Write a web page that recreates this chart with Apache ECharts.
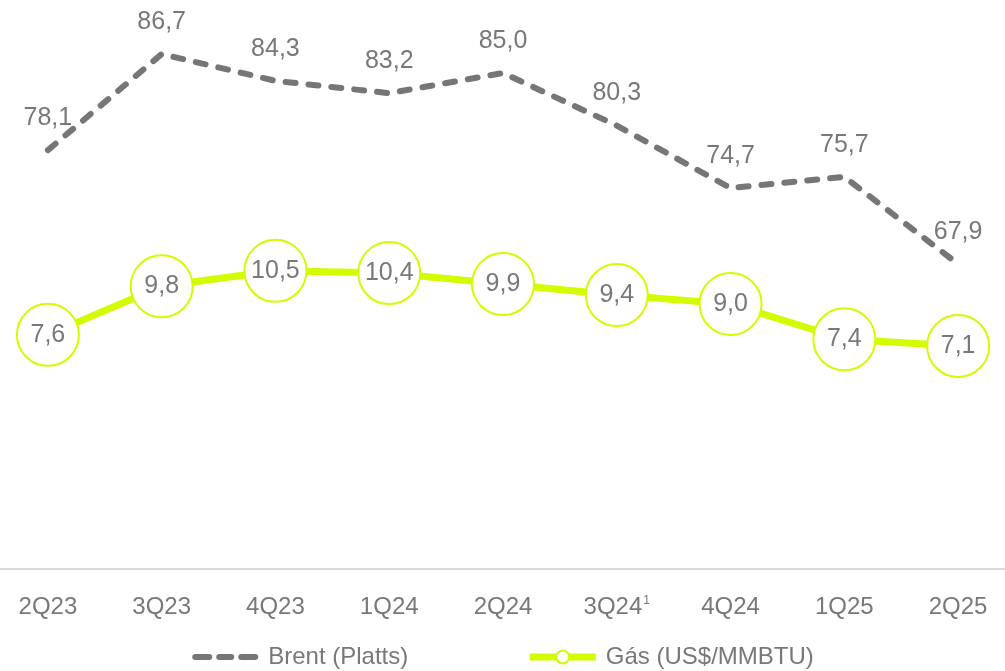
<!DOCTYPE html>
<html><head><meta charset="utf-8">
<script src="https://cdn.jsdelivr.net/npm/echarts@6/dist/echarts.min.js"></script>
<style>html,body{margin:0;padding:0;background:#fff;overflow:hidden;width:1005px;height:671px}#c{position:absolute;left:-9px;top:0;width:1024px;height:671px}</style>
</head><body><div id="c"></div>
<script>
var categories = ['2Q23','3Q23','4Q23','1Q24','2Q24','3Q24','4Q24','1Q25','2Q25'];
var brent = [78.1, 86.7, 84.3, 83.2, 85.0, 80.3, 74.7, 75.7, 67.9];
var gas = [7.6, 9.8, 10.5, 10.4, 9.9, 9.4, 9.0, 7.4, 7.1];
var superscriptCats = ['3Q24'];
var seriesNames = ['Brent (Platts)', 'Gás (US$/MMBTU)'];

var FONT = 'Liberation Sans';
var GRAY = '#787878';
var BRENT_GRAY = '#767676';
var GREEN = '#d4fb00';
function fmt(v){ return v.toFixed(1).replace('.', ','); }

var chart = echarts.init(document.getElementById('c'), null, {renderer:'canvas'});
chart.setOption({
  animation: false,
  textStyle: {fontFamily: FONT},
  grid: {left: 0, right: 0, top: 0, bottom: 102, containLabel: false},
  legend: {
    top: 640, left: 'center',
    itemWidth: 66, itemHeight: 16, itemGap: 118,
    textStyle: {fontFamily: FONT, fontSize: 24, color: GRAY, padding: [0, 0, 0, 5]},
    data: [
      {name: seriesNames[0],
       icon: 'path://M3,0h14a3,3 0 0 1 0,6h-14a3,3 0 0 1 0,-6z M27,0h12a3,3 0 0 1 0,6h-12a3,3 0 0 1 0,-6z M49,0h14a3,3 0 0 1 0,6h-14a3,3 0 0 1 0,-6z',
       itemStyle: {color: BRENT_GRAY, borderWidth: 0}},
      {name: seriesNames[1],
       lineStyle: {color: GREEN, width: 7},
       itemStyle: {color: '#ffffff', borderColor: GREEN, borderWidth: 2}}
    ]
  },
  xAxis: {
    type: 'category', data: categories, boundaryGap: true,
    axisLine: {onZero: false, lineStyle: {color: '#d9d9d9', width: 2}},
    axisTick: {show: false},
    axisLabel: {
      interval: 0, margin: 26, fontSize: 24, color: GRAY, fontFamily: FONT,
      formatter: function(v){ return superscriptCats.indexOf(v) >= 0 ? v + '{sup|1}' : v; },
      rich: {sup: {fontSize: 12, color: GRAY, verticalAlign: 'top', padding: [0,0,12,1]}}
    }
  },
  yAxis: [
    {type: 'value', min: 40.6, max: 91.54, show: false, splitLine: {show: false}},
    {type: 'value', min: -3.0, max: 22.76, show: false, splitLine: {show: false}}
  ],
  series: [
    {
      name: seriesNames[0], type: 'line', yAxisIndex: 0, data: brent,
      symbol: 'circle', symbolSize: 1, showSymbol: true,
      lineStyle: {color: BRENT_GRAY, width: 6, type: [10, 13], cap: 'round'},
      itemStyle: {color: 'rgba(0,0,0,0)', borderWidth: 0},
      label: {show: true, position: 'top', distance: 19, fontSize: 25, color: GRAY, fontFamily: FONT,
        formatter: function(p){ return fmt(p.value); }}
    },
    {
      name: seriesNames[1], type: 'line', yAxisIndex: 1, data: gas,
      symbol: 'circle', symbolSize: 62,
      lineStyle: {color: GREEN, width: 7},
      itemStyle: {color: '#ffffff', borderColor: GREEN, borderWidth: 2},
      label: {show: true, position: 'inside', fontSize: 25, color: GRAY, fontFamily: FONT,
        formatter: function(p){ return fmt(p.value); }},
      z: 3
    }
  ]
});
</script></body></html>
